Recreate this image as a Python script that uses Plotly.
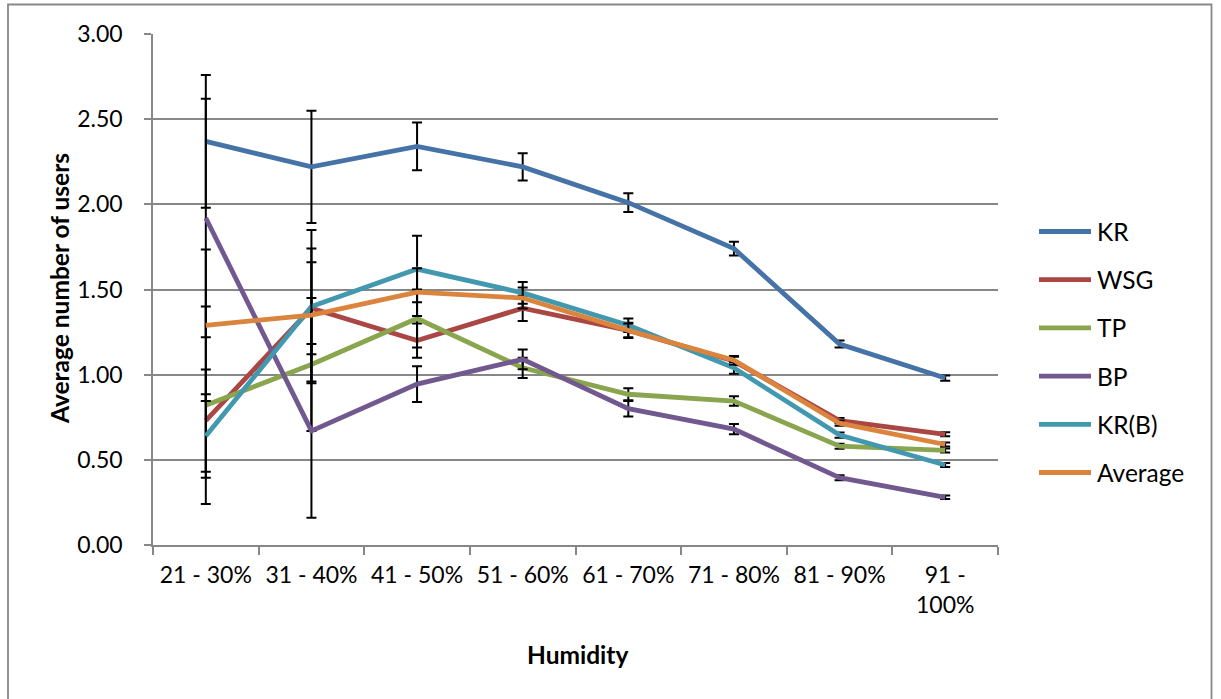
import plotly.graph_objects as go

# Humidity bands and average users per band, with error bars
categories = ["21 - 30%", "31 - 40%", "41 - 50%", "51 - 60%",
              "61 - 70%", "71 - 80%", "81 - 90%", "91 -<br>100%"]

kr = [2.37, 2.22, 2.34, 2.22, 2.01, 1.74, 1.18, 0.98]
kr_err = [0.39, 0.33, 0.14, 0.08, 0.055, 0.04, 0.02, 0.015]

wsg = [0.73, 1.39, 1.20, 1.39, 1.26, 1.08, 0.73, 0.65]
wsg_err = [0.30, 0.27, 0.10, 0.075, 0.045, 0.025, 0.015, 0.012]

tp = [0.82, 1.06, 1.33, 1.04, 0.885, 0.845, 0.58, 0.555]
tp_err = [0.58, 0.39, 0.17, 0.06, 0.035, 0.028, 0.015, 0.012]

bp = [1.92, 0.67, 0.945, 1.09, 0.80, 0.68, 0.395, 0.28]
bp_err = [0.70, 0.51, 0.105, 0.058, 0.045, 0.03, 0.015, 0.01]

krb = [0.64, 1.40, 1.62, 1.48, 1.29, 1.04, 0.645, 0.47]
krb_err = [0.245, 0.45, 0.195, 0.064, 0.04, 0.035, 0.015, 0.012]

avg = [1.29, 1.35, 1.485, 1.45, 1.26, 1.085, 0.715, 0.59]
avg_err = [0.445, 0.39, 0.14, 0.062, 0.04, 0.025, 0.015, 0.012]

series_names = ["KR", "WSG", "TP", "BP", "KR(B)", "Average"]
series_values = [kr, wsg, tp, bp, krb, avg]
series_errors = [kr_err, wsg_err, tp_err, bp_err, krb_err, avg_err]
colors = ["#4572A7", "#AA4643", "#89A54E", "#71588F", "#4198AF", "#DB843D"]

FONT = "Lato"
TEXT = "#000000"
GRID = "#878787"
TICK_SIZE = 23
TITLE_SIZE = 24.5
LINE_W = 4.8

W, H = 1221, 699
L, R, T, B = 153, 998, 34, 545  # plot area edges in px


def px_x(x):
    return (x - L) / (R - L)


def px_y(y):
    return (B - y) / (B - T)


fig = go.Figure()
for name, vals, errs, col in zip(series_names, series_values, series_errors, colors):
    fig.add_trace(go.Scatter(
        x=categories, y=vals, name=name, mode="lines",
        line=dict(color=col, width=LINE_W),
        error_y=dict(type="data", array=errs, visible=True,
                     color="black", thickness=2, width=5),
        showlegend=False,
    ))

shapes = [
    # outer chart border
    dict(type="rect", xref="paper", yref="paper",
         x0=px_x(8), x1=px_x(1211.5), y0=px_y(704), y1=px_y(4.5),
         line=dict(color="#888888", width=1.8), layer="below"),
]
annotations = [
    dict(text="<b>Average number of users</b>", xref="paper", yref="paper",
         x=px_x(59), y=px_y(289), textangle=-90, showarrow=False,
         xanchor="center", yanchor="middle",
         font=dict(family=FONT, size=TITLE_SIZE, color=TEXT)),
    dict(text="<b>Humidity</b>", xref="paper", yref="paper",
         x=px_x(577), y=px_y(654), showarrow=False,
         xanchor="center", yanchor="middle",
         font=dict(family=FONT, size=TITLE_SIZE, color=TEXT)),
]

# legend drawn as short line samples with labels
leg_y0, leg_dy = 231.5, 48.2
for i, (name, col) in enumerate(zip(series_names, colors)):
    yy = px_y(leg_y0 + i * leg_dy)
    shapes.append(dict(type="line", xref="paper", yref="paper",
                       x0=px_x(1039), x1=px_x(1091), y0=yy, y1=yy,
                       line=dict(color=col, width=LINE_W)))
    annotations.append(dict(text=name, xref="paper", yref="paper",
                            x=px_x(1095), y=yy, showarrow=False,
                            xanchor="left", yanchor="middle",
                            font=dict(family=FONT, size=TITLE_SIZE, color=TEXT)))

fig.update_layout(
    width=W, height=H,
    margin=dict(l=L, r=W - R, t=T, b=H - B, pad=0),
    paper_bgcolor="white", plot_bgcolor="white",
    font=dict(family=FONT, size=TICK_SIZE, color=TEXT),
    shapes=shapes, annotations=annotations,
    showlegend=False,
)
fig.update_xaxes(
    type="category", range=[-0.5, len(categories) - 0.5],
    tickson="boundaries", ticks="outside", ticklen=8,
    tickcolor=GRID, tickwidth=1.5, showline=True, linecolor=GRID, linewidth=1.5,
    showgrid=False, zeroline=False, ticklabelstandoff=9,
    tickfont=dict(family=FONT, size=TICK_SIZE, color=TEXT),
)
fig.update_yaxes(
    range=[0, 3], tickvals=[0, 0.5, 1, 1.5, 2, 2.5, 3], tickformat=".2f",
    ticks="outside", ticklen=7, tickcolor=GRID, tickwidth=1.5,
    showline=True, linecolor=GRID, linewidth=1.5,
    showgrid=True, gridcolor=GRID, gridwidth=1.5, zeroline=False,
    ticklabelstandoff=17,
    tickfont=dict(family=FONT, size=TICK_SIZE, color=TEXT),
)

fig.write_html("out.html")
